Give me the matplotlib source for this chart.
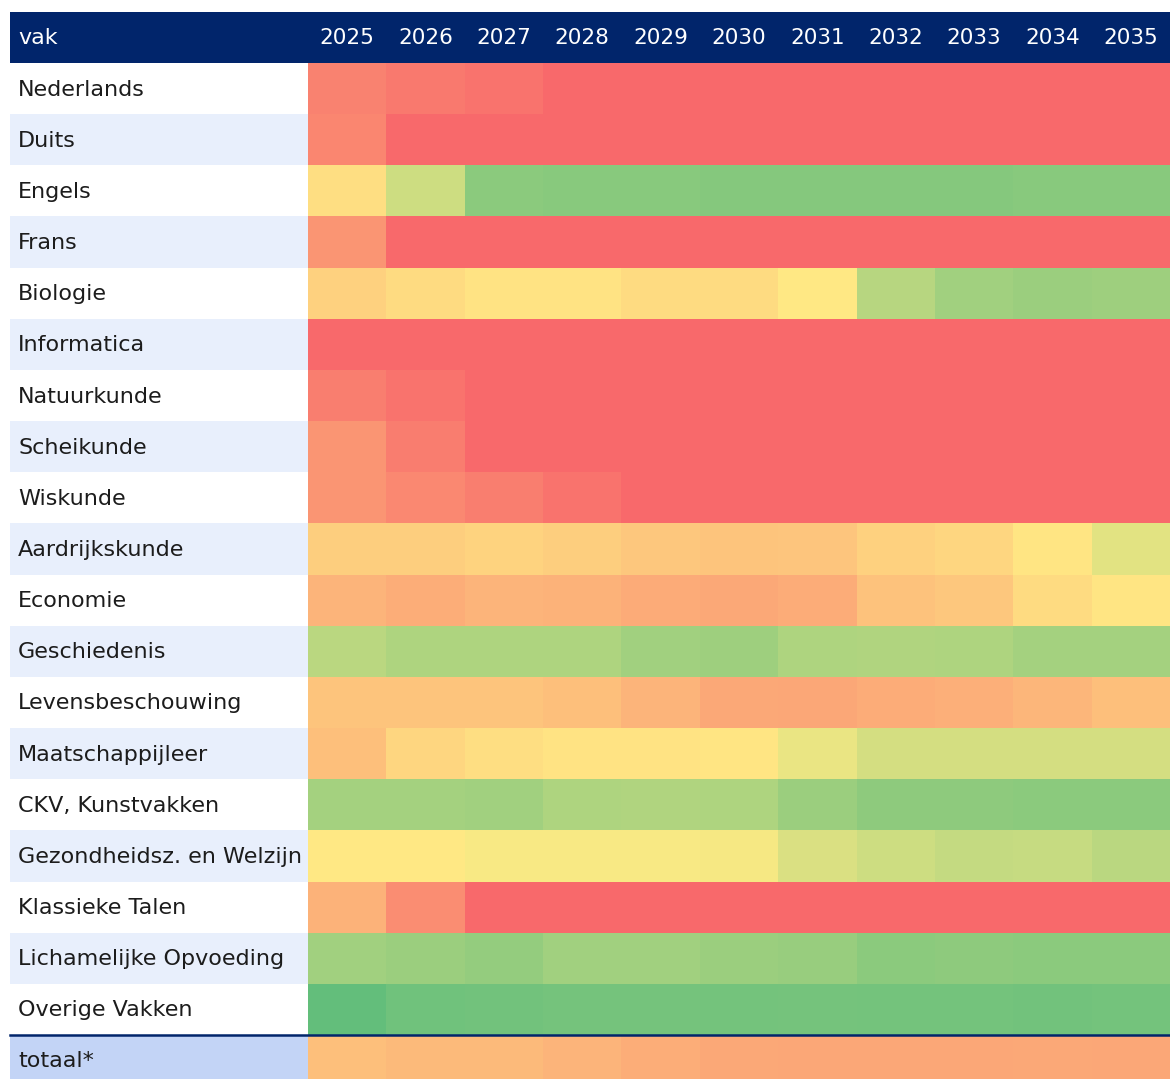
import numpy as np
import matplotlib
matplotlib.use('Agg')
import matplotlib.pyplot as plt
from matplotlib.colors import LinearSegmentedColormap

years = ['2025', '2026', '2027', '2028', '2029', '2030', '2031', '2032', '2033', '2034', '2035']
vakken = ['Nederlands', 'Duits', 'Engels', 'Frans', 'Biologie', 'Informatica', 'Natuurkunde',
          'Scheikunde', 'Wiskunde', 'Aardrijkskunde', 'Economie', 'Geschiedenis',
          'Levensbeschouwing', 'Maatschappijleer', 'CKV, Kunstvakken',
          'Gezondheidsz. en Welzijn', 'Klassieke Talen', 'Lichamelijke Opvoeding',
          'Overige Vakken']

# colour-scale position per cell: 0 = red (tekort), 0.5 = yellow, 1 = green
nederlands = [0.10, 0.065, 0.04, 0, 0, 0, 0, 0, 0, 0, 0]
duits = [0.11, 0, 0, 0, 0, 0, 0, 0, 0, 0, 0]
engels = [0.45, 0.66, 0.87, 0.88, 0.88, 0.89, 0.89, 0.89, 0.89, 0.88, 0.88]
frans = [0.17, 0, 0, 0, 0, 0, 0, 0, 0, 0, 0]
biologie = [0.40, 0.44, 0.47, 0.47, 0.44, 0.44, 0.49, 0.73, 0.80, 0.82, 0.81]
informatica = [0, 0, 0, 0, 0, 0, 0, 0, 0, 0, 0]
natuurkunde = [0.085, 0.04, 0, 0, 0, 0, 0, 0, 0, 0, 0]
scheikunde = [0.17, 0.08, 0, 0, 0, 0, 0, 0, 0, 0, 0]
wiskunde = [0.17, 0.12, 0.085, 0.04, 0, 0, 0, 0, 0, 0, 0]
aardrijkskunde = [0.39, 0.39, 0.41, 0.39, 0.36, 0.35, 0.355, 0.40, 0.42, 0.48, 0.59]
economie = [0.29, 0.265, 0.29, 0.285, 0.255, 0.245, 0.26, 0.34, 0.36, 0.44, 0.48]
geschiedenis = [0.72, 0.76, 0.76, 0.76, 0.80, 0.81, 0.76, 0.75, 0.76, 0.79, 0.79]
levensbeschouwing = [0.35, 0.35, 0.35, 0.33, 0.29, 0.245, 0.24, 0.26, 0.27, 0.30, 0.33]
maatschappijleer = [0.33, 0.42, 0.45, 0.47, 0.47, 0.48, 0.57, 0.64, 0.64, 0.64, 0.64]
ckv = [0.79, 0.79, 0.80, 0.76, 0.75, 0.76, 0.82, 0.86, 0.86, 0.87, 0.87]
gezondheidsz = [0.49, 0.49, 0.52, 0.52, 0.52, 0.53, 0.62, 0.66, 0.69, 0.68, 0.72]
klassieke_talen = [0.285, 0.14, 0, 0, 0, 0, 0, 0, 0, 0, 0]
lo = [0.80, 0.82, 0.84, 0.80, 0.80, 0.82, 0.83, 0.87, 0.86, 0.87, 0.87]
overige = [1.0, 0.955, 0.95, 0.94, 0.94, 0.945, 0.94, 0.945, 0.945, 0.95, 0.945]
totaal = [0.33, 0.31, 0.31, 0.29, 0.265, 0.245, 0.24, 0.24, 0.24, 0.245, 0.24]

rows = [nederlands, duits, engels, frans, biologie, informatica, natuurkunde, scheikunde,
        wiskunde, aardrijkskunde, economie, geschiedenis, levensbeschouwing,
        maatschappijleer, ckv, gezondheidsz, klassieke_talen, lo, overige]

cmap = LinearSegmentedColormap.from_list('rag', ['#F8696B', '#FFEB84', '#63BE7B'])

# layout in pixels
W, H = 1170, 1079
left, label_w = 10, 298
top, head_h = 12, 51
row_h = (1035 - 63) / len(vakken)
col_w = (W - left - label_w) / len(years)
navy = '#01256B'
txt = '#1c1c1c'
fs = 16

fig = plt.figure(figsize=(W / 100, H / 100), dpi=100)
ax = fig.add_axes([0, 0, 1, 1])
ax.set_xlim(0, W)
ax.set_ylim(H, 0)
ax.axis('off')

# header
ax.add_patch(plt.Rectangle((left, top), W - left, head_h, color=navy, lw=0))
ax.text(left + 8, top + head_h / 2 + 1, 'vak', color='white', fontsize=fs, va='center', ha='left')
x0 = left + label_w
for j, y in enumerate(years):
    ax.text(x0 + (j + 0.5) * col_w, top + head_h / 2 + 1, y, color='white', fontsize=15.5,
            va='center', ha='center')

# label column
y0 = top + head_h
for i, v in enumerate(vakken):
    bg = 'white' if i % 2 == 0 else '#E8EFFC'
    ax.add_patch(plt.Rectangle((left, y0 + i * row_h), label_w, row_h, color=bg, lw=0))
    ax.text(left + 8, y0 + (i + 0.5) * row_h + 1, v, color=txt, fontsize=fs, va='center', ha='left')

# heatmap cells
data = np.array(rows + [totaal])
xe = x0 + np.arange(len(years) + 1) * col_w
ye = np.append(y0 + np.arange(len(vakken) + 1) * row_h, H)
ax.pcolormesh(xe, ye, data, cmap=cmap, vmin=0, vmax=1, shading='flat')

# totaal row
ty = y0 + len(vakken) * row_h
ax.add_patch(plt.Rectangle((left, ty), label_w, H - ty, color='#C3D4F6', lw=0))
ax.text(left + 8, ty + 26, 'totaal*', color=txt, fontsize=fs, va='center', ha='left')
ax.plot([left, W], [ty, ty], color=navy, lw=1.8)

fig.savefig('out.png', dpi=100)
